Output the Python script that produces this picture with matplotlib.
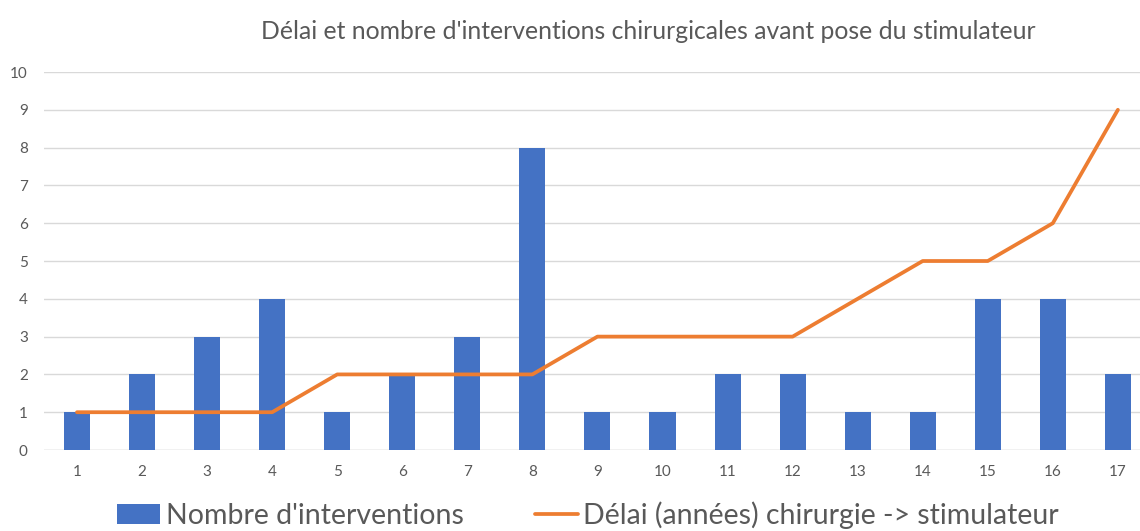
import numpy as np
import matplotlib.pyplot as plt

patients = list(range(1, 18))
nb_interventions = [1, 2, 3, 4, 1, 2, 3, 8, 1, 1, 2, 2, 1, 1, 4, 4, 2]
delai_annees = [1, 1, 1, 1, 2, 2, 2, 2, 3, 3, 3, 3, 4, 5, 5, 6, 9]

plt.rcParams['font.family'] = ['Lato', 'DejaVu Sans']

fig = plt.figure(figsize=(11.4, 5.31), dpi=100)
ax = fig.add_axes([0.039, 0.1525, 0.961, 0.7119])

bars = ax.bar(patients, nb_interventions, width=0.4, color='#4472C4',
              label="Nombre d'interventions", zorder=2)
line, = ax.plot(patients, delai_annees, color='#ED7D31', lw=2.7,
                solid_capstyle='round', solid_joinstyle='round',
                label='Délai (années) chirurgie -> stimulateur', zorder=3)

ax.set_xlim(0.5, 17.34)
ax.set_ylim(0, 10)
ax.set_yticks(range(0, 11))
ax.set_xticks(patients)
ax.grid(axis='y', color='#D9D9D9', lw=1, zorder=0)
for s in ax.spines.values():
    s.set_visible(False)
ax.axhline(0, color='#D9D9D9', lw=1, zorder=1)
ax.tick_params(length=0, labelsize=11, colors='#595959')
ax.tick_params(axis='x', pad=11)
ax.tick_params(axis='y', pad=12)

fig.suptitle("Délai et nombre d'interventions chirurgicales avant pose du stimulateur",
             x=0.569, y=0.962, fontsize=17.8, color='#595959')

fig.legend(handles=[bars, line], loc='lower center', bbox_to_anchor=(0.516, -0.045),
           ncol=2, frameon=False, fontsize=20.5, labelcolor='#595959',
           handlelength=1.5, handletextpad=0.2, columnspacing=2.5)

fig.savefig('out.png', dpi=100)
